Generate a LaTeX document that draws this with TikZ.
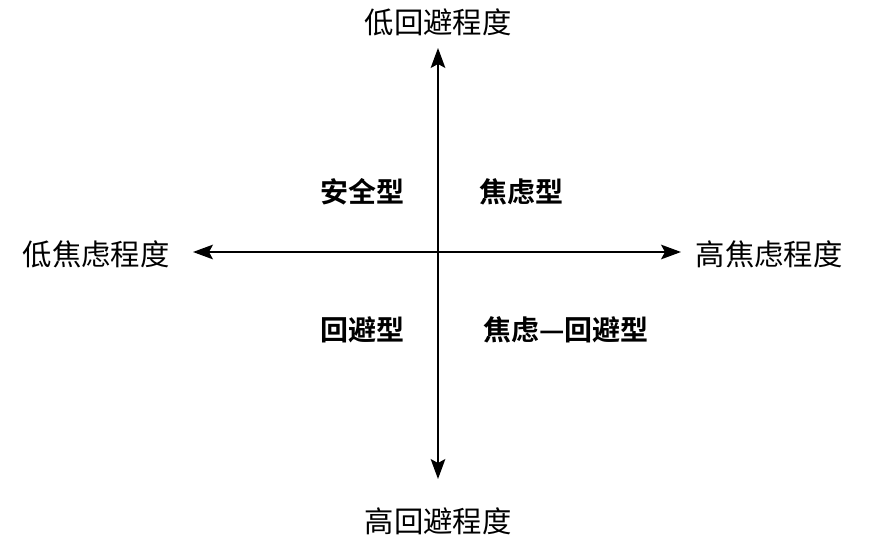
\documentclass[tikz,border=0pt]{standalone}
\usepackage{fontspec}
\newfontfamily\cjk{Noto Sans CJK SC}[BoldFont={Noto Sans CJK SC Bold}]
\usetikzlibrary{arrows.meta}

\tikzset{
  axis line/.style={<->, line width=1.1pt},
  axis label/.style={inner sep=0pt},
  quadrant/.style={inner sep=0pt, font=\cjk\bfseries\fontsize{21}{21}\selectfont}
}

\begin{document}
\begin{tikzpicture}[x=0.75pt, y=-0.75pt, >={Stealth[length=15pt,width=11pt,inset=3pt]},
  font=\cjk\fontsize{22}{22}\selectfont]

\useasboundingbox (0,0) rectangle (875,546);

% axis ends
\coordinate (top) at (438,48);
\coordinate (bottom) at (438,479);
\coordinate (left) at (193,252);
\coordinate (right) at (681,252);

\draw [axis line] (bottom) -- (top);
\draw [axis line] (left) -- (right);

% axis labels
\node [axis label] (low-avoid) at (438,22) {低回避程度};
\node [axis label] (high-avoid) at (438,521) {高回避程度};
\node [axis label] (low-anx) at (96,254) {低焦虑程度};
\node [axis label] (high-anx) at (769,254) {高焦虑程度};

% quadrants
\node [quadrant] (secure) at (362,192) {安全型};
\node [quadrant] (anxious) at (521,192) {焦虑型};
\node [quadrant] (avoidant) at (362,330) {回避型};
\node [quadrant] (anx-avoid) at (566,330) {焦虑—回避型};

\end{tikzpicture}
\end{document}
